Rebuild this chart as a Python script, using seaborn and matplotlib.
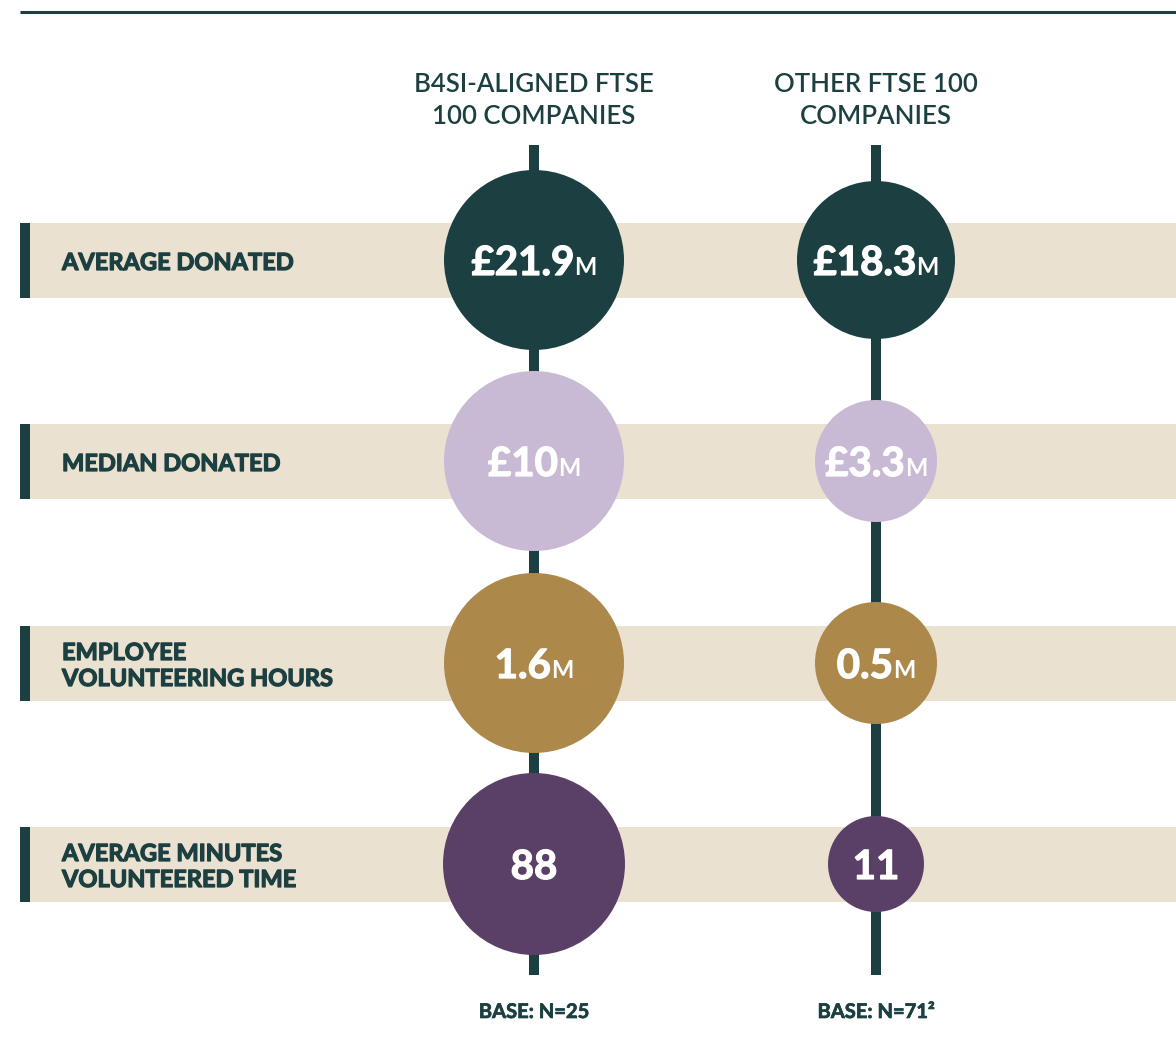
import numpy as np
import matplotlib.pyplot as plt
import matplotlib.patheffects as pe
import pandas as pd
import seaborn as sns

# data
metrics = ["AVERAGE DONATED", "MEDIAN DONATED",
           "EMPLOYEE\nVOLUNTEERING HOURS", "AVERAGE MINUTES\nVOLUNTEERED TIME"]
groups = ["B4SI-ALIGNED FTSE\n100 COMPANIES", "OTHER FTSE 100\nCOMPANIES"]
b4si_values = ["£21.9", "£10", "1.6", "88"]
other_values = ["£18.3", "£3.3", "0.5", "11"]
value_units = ["M", "M", "M", ""]
bases = ["BASE: N=25", "BASE: N=71²"]

# style / layout (pixels)
b4si_radius = [90, 90, 90, 91]
other_radius = [79, 61, 61, 48]
metric_colors = ["#1c3f41", "#c8b9d5", "#ad884b", "#5a3f67"]
DARK = "#1c3f41"
BEIGE = "#eae1d0"
W, H = 1176, 1059
col_x = [534, 876]
row_y = [260, 461, 663, 864]
FONT = ["Lato", "DejaVu Sans"]

sns.set_style("white")
plt.rcParams["font.family"] = FONT

fig = plt.figure(figsize=(W / 100, H / 100), dpi=100)
ax = fig.add_axes([0, 0, 1, 1])
ax.set_xlim(0, W)
ax.set_ylim(H, 0)
ax.axis("off")

# top rule
ax.plot([20, W], [12, 12], color=DARK, lw=2.2, solid_capstyle="butt")

# bands with dark left tab
for cy in row_y:
    ax.fill_between([20, W], cy - 37.5, cy + 37.5, color=BEIGE, lw=0, zorder=1)
    ax.fill_between([20, 30], cy - 37.5, cy + 37.5, color=DARK, lw=0, zorder=2)

# vertical stems
for cx in col_x:
    ax.plot([cx, cx], [145, 975], color=DARK, lw=7.2, solid_capstyle="butt", zorder=3)

# circles
rows = []
for gi, (vals, rads) in enumerate([(b4si_values, b4si_radius), (other_values, other_radius)]):
    for mi, m in enumerate(metrics):
        rows.append({"group": gi, "metric": m, "x": col_x[gi], "y": row_y[mi],
                     "r": rads[mi], "value": vals[mi], "unit": value_units[mi]})
df = pd.DataFrame(rows)
sizes = (2 * df["r"] * 0.72) ** 2
sns.scatterplot(data=df, x="x", y="y", hue="metric", palette=dict(zip(metrics, metric_colors)),
                s=sizes.values, linewidth=0, legend=False, ax=ax, zorder=4)

renderer = fig.canvas.get_renderer()
thick_white = [pe.withStroke(linewidth=0.9, foreground="white")]
thick_dark = [pe.withStroke(linewidth=0.9, foreground=DARK)]


def value_label(x, y, main, unit):
    base_y = y + 15
    t1 = ax.text(x, base_y, main, fontsize=29, fontweight="bold", color="white",
                 ha="left", va="baseline", zorder=5, path_effects=thick_white)
    w1 = t1.get_window_extent(renderer).width
    w2 = 0
    t2 = None
    if unit:
        t2 = ax.text(x, base_y, unit, fontsize=17, fontweight="bold", color="white",
                     ha="left", va="baseline", zorder=5)
        w2 = t2.get_window_extent(renderer).width
    left = x - (w1 + w2) / 2
    t1.set_x(left)
    if t2 is not None:
        t2.set_x(left + w1)


for _, r in df.iterrows():
    value_label(r["x"], r["y"], r["value"], r["unit"])

# row labels
for cy, m in zip(row_y, metrics):
    lines = m.split("\n")
    n = len(lines)
    for i, line in enumerate(lines):
        by = cy + 10 + (i - (n - 1) / 2) * 26
        ax.text(62, by, line, fontsize=17, fontweight="bold", color=DARK,
                ha="left", va="baseline", zorder=5, path_effects=thick_dark)

# column headers
for cx, g in zip(col_x, groups):
    for i, line in enumerate(g.split("\n")):
        ax.text(cx, 92 + i * 31.5, line, fontsize=18.5, fontweight="semibold", color=DARK,
                ha="center", va="baseline")

# base notes
for cx, b in zip(col_x, bases):
    ax.text(cx, 1012, b, fontsize=14.5, fontweight="bold", color=DARK,
            ha="center", va="center", path_effects=[pe.withStroke(linewidth=0.5, foreground=DARK)])

fig.savefig("out.png", dpi=100)
